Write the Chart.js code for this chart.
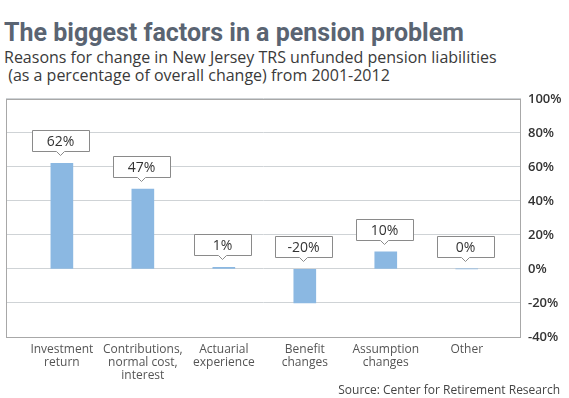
<!DOCTYPE html>
<html>
<head>
<meta charset="utf-8">
<script src="https://cdn.jsdelivr.net/npm/chart.js@4/dist/chart.umd.min.js"></script>
<style>
  html, body { margin: 0; padding: 0; background: #fff; }
  body { width: 569px; height: 398px; position: relative; overflow: hidden; font-family: "Open Sans", sans-serif; }
  .title { position: absolute; left: 4px; top: 18px; font: bold 25px Roboto, sans-serif; color: #5a6472; white-space: nowrap; }
  .sub { position: absolute; left: 4px; top: 48px; font-size: 16px; line-height: 18.3px; color: #3a3a3a; white-space: pre; }
  .src { position: absolute; right: 9px; top: 381px; font-size: 12px; color: #444; white-space: nowrap; }
  .wrap { position: absolute; left: 0; top: 84px; width: 569px; height: 304px; }
</style>
</head>
<body>
<div class="title">The biggest factors in a pension problem</div>
<div class="sub">Reasons for change in New Jersey TRS unfunded pension liabilities
 (as a percentage of overall change) from 2001-2012</div>
<div class="wrap"><canvas id="chart"></canvas></div>
<div class="src">Source: Center for Retirement Research</div>
<script>
"use strict";
const categories = [
  ["Investment", "return"],
  ["Contributions,", "normal cost,", "interest"],
  ["Actuarial", "experience"],
  ["Benefit", "changes"],
  ["Assumption", "changes"],
  ["Other"],
];
const values = [62, 47, 1, -20, 10, 0];
const yTicks = [100, 80, 60, 40, 20, 0, -20, -40];

const GRID = "#cfd3d6", FRAME = "#a8a8a8";

// callout boxes above each bar, plus the plot frame
const callouts = {
  id: "callouts",
  afterDatasetsDraw(chart) {
    const { ctx, chartArea: a, scales: { x, y } } = chart;
    ctx.save();
    ctx.strokeStyle = FRAME;
    ctx.lineWidth = 1;
    ctx.strokeRect(Math.round(a.left) + 0.5, Math.round(a.top) + 0.5, Math.round(a.width) - 1, Math.round(a.height));
    ctx.font = "14px 'Open Sans', sans-serif";
    ctx.textAlign = "center";
    ctx.textBaseline = "middle";
    values.forEach((v, i) => {
      const cx = Math.round(x.getPixelForValue(i)) - 1.5;
      const tip = y.getPixelForValue(Math.max(v, 0)) - 8;
      const bot = Math.round(tip - 4) + 0.5, w = 57, h = 21;
      const l = Math.round(cx - w / 2) + 0.5, t = bot - h;
      ctx.beginPath();
      ctx.moveTo(l, t); ctx.lineTo(l + w, t); ctx.lineTo(l + w, bot);
      ctx.lineTo(cx + 4, bot); ctx.lineTo(cx, bot + 4); ctx.lineTo(cx - 4, bot);
      ctx.lineTo(l, bot); ctx.closePath();
      ctx.fillStyle = "#fff"; ctx.fill();
      ctx.strokeStyle = "#8a8a8a"; ctx.stroke();
      ctx.fillStyle = "#333";
      ctx.fillText(v + "%", cx, t + h / 2 + 1);
    });
    ctx.restore();
  }
};

new Chart(document.getElementById("chart"), {
  type: "bar",
  data: {
    datasets: [{
      data: values.map((v, i) => ({ x: i, y: v })),
      backgroundColor: "#8bb8e2",
      barThickness: 22,
    }]
  },
  options: {
    responsive: true,
    maintainAspectRatio: false,
    animation: false,
    layout: { padding: { left: 6, right: 0, top: 14, bottom: 0 } },
    plugins: { legend: { display: false }, tooltip: { enabled: false } },
    scales: {
      x: {
        type: "linear", min: -0.69, max: 5.67, offset: false,
        grid: { display: false, drawTicks: false },
        border: { display: false },
        afterBuildTicks: s => { s.ticks = categories.map((_, i) => ({ value: i })); },
        afterFit: s => { s.height = 51; },
        ticks: {
          autoSkip: false, maxRotation: 0, padding: 6,
          color: "#555", font: { family: "'Open Sans', sans-serif", size: 12, lineHeight: 1.1 },
          callback: v => categories[v],
        },
      },
      y: {
        position: "right", min: -40, max: 100,
        afterBuildTicks: s => { s.ticks = yTicks.map(v => ({ value: v })); },
        afterFit: s => { s.width = 48; },
        grid: { color: GRID, lineWidth: 1, drawTicks: false },
        border: { display: false },
        ticks: {
          padding: 7, color: "#333",
          font: { family: "'Open Sans', sans-serif", size: 13, weight: "600" },
          callback: v => v + "%",
        },
      },
    },
  },
  plugins: [callouts],
});
</script>
</body>
</html>
